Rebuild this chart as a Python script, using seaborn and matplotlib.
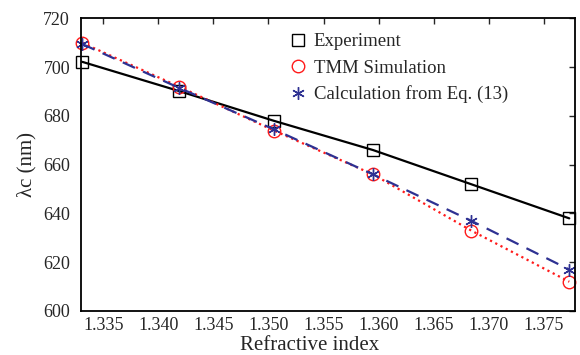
import numpy as np
import pandas as pd
import seaborn as sns
import matplotlib.pyplot as plt

# data
n_index = [1.3331, 1.3419, 1.3505, 1.3595, 1.3684, 1.3773]
experiment = [702.2, 690.2, 678.0, 666.0, 652.0, 638.0]
tmm_sim = [710.0, 692.0, 674.0, 656.0, 633.0, 612.0]
calc_eq13 = [709.5, 691.5, 674.5, 656.0, 637.0, 617.0]

x_ticks = [1.335, 1.340, 1.345, 1.350, 1.355, 1.360, 1.365, 1.370, 1.375]
y_ticks = [600, 620, 640, 660, 680, 700, 720]

sns.set_style('white')
plt.rcParams['font.family'] = ['Liberation Serif', 'DejaVu Serif']
plt.rcParams['mathtext.fontset'] = 'stix'

fig = plt.figure(figsize=(5.8, 3.55), dpi=100)
ax = fig.add_axes([0.140, 0.124, 0.851, 0.824])

series = [
    ('Experiment', experiment, 'black', '-', 's', 8),
    ('TMM Simulation', tmm_sim, '#ff1a1a', ':', 'o', 9),
    ('Calculation from Eq. (13)', calc_eq13, '#2e3192', (0, (6, 4)), (6, 2, 0), 9),
]

for label, vals, color, ls, mk, ms in series:
    df = pd.DataFrame({'n': n_index, 'lam': vals})
    sns.lineplot(data=df, x='n', y='lam', ax=ax, color=color, linestyle=ls,
                 linewidth=1.6, marker=mk, markersize=ms,
                 markerfacecolor='none', markeredgecolor=color,
                 markeredgewidth=1.0, label=label, clip_on=False)

ax.set_xlim(1.3330, 1.3778)
ax.set_ylim(600, 720)
ax.set_xticks(x_ticks)
ax.set_xticklabels([f'{v:.3f}' for v in x_ticks])
ax.set_yticks(y_ticks)
ax.tick_params(direction='in', length=4, width=1.0, labelsize=13,
               top=True, right=True)
ax.tick_params(axis='x', pad=4)
ax.tick_params(axis='y', pad=8)
for sp in ax.spines.values():
    sp.set_linewidth(1.3)
    sp.set_color('black')

ax.set_xlabel('Refractive index', fontsize=15, labelpad=2)
ax.xaxis.set_label_coords(0.462, -0.085)
ax.set_ylabel('λc (nm)', fontsize=15, labelpad=5)

leg = ax.legend(loc='upper left', bbox_to_anchor=(0.405, 0.975), frameon=False,
                fontsize=13.5, handlelength=1.0, handletextpad=0.35,
                labelspacing=0.48, borderaxespad=0)
for h in leg.get_lines():
    h.set_linestyle('none')

fig.savefig('out.png', dpi=100)
